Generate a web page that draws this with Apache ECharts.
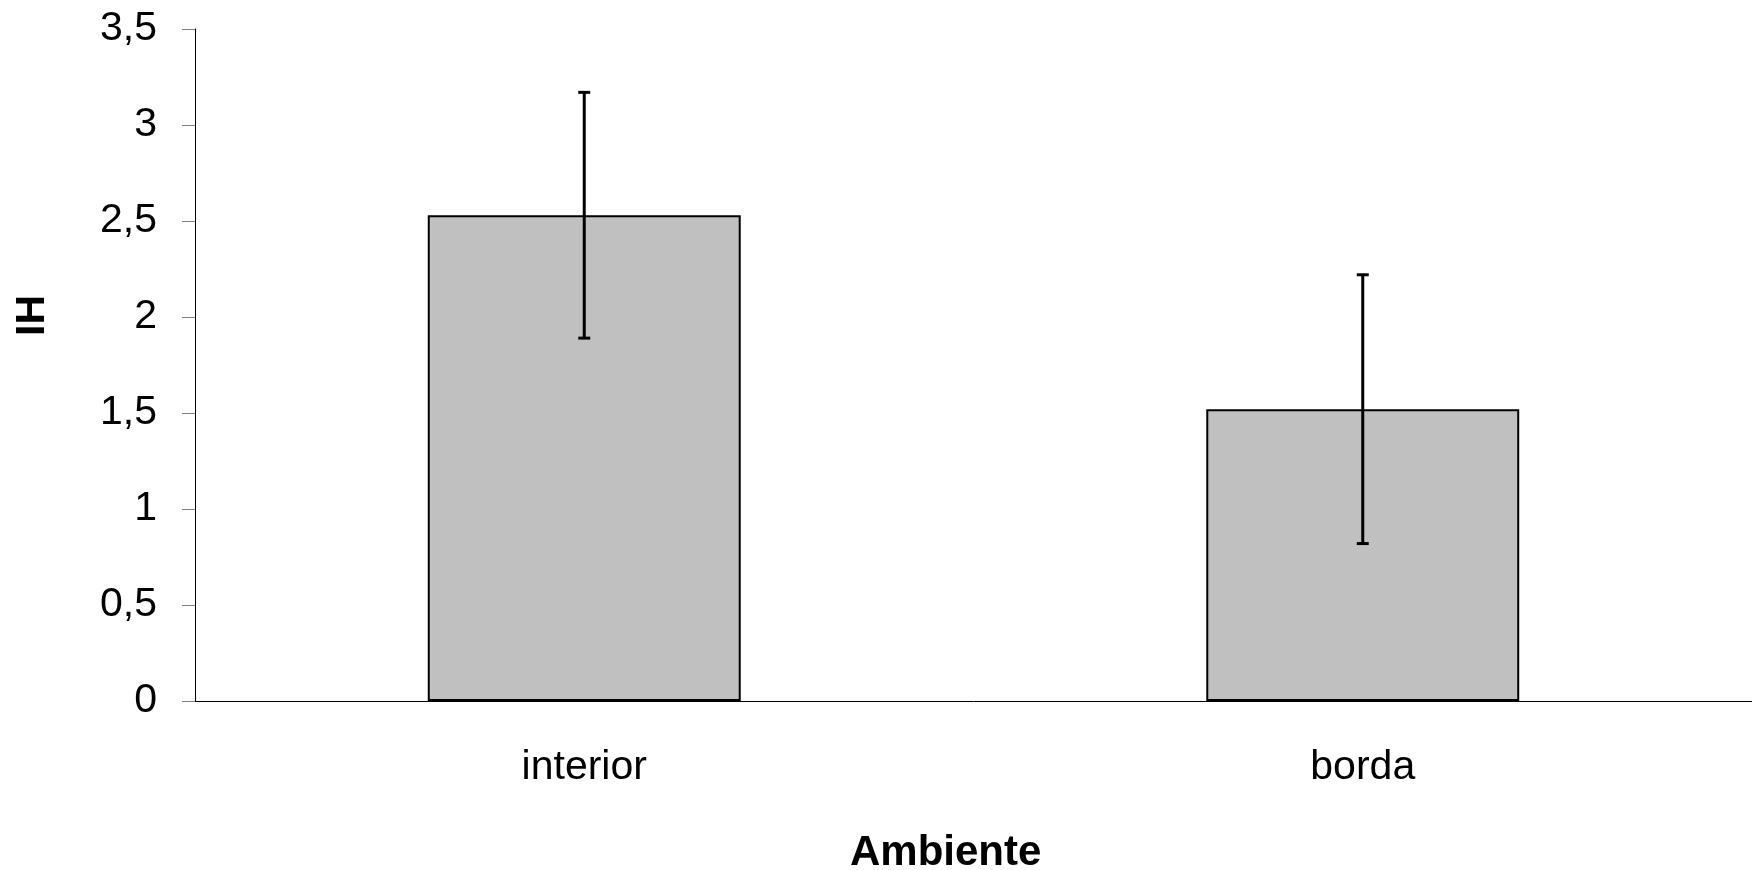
<!DOCTYPE html>
<html>
<head>
<meta charset="utf-8">
<script src="https://cdn.jsdelivr.net/npm/echarts@6/dist/echarts.min.js"></script>
<style>
  html, body { margin: 0; padding: 0; background: #fff; }
  #chart { width: 1752px; height: 870px; }
</style>
</head>
<body>
<div id="chart"></div>
<script>
// categorias (Ambiente)
const categories = ["interior", "borda"];
// média do IH
const meanValues = [2.53, 1.52];
// desvio (barra de erro)
const errorValues = [0.64, 0.70];
// rótulos do eixo y
const yTicks = [0, 0.5, 1, 1.5, 2, 2.5, 3, 3.5];

const FONT = "Liberation Sans, Arial, sans-serif";

const errorData = categories.map((c, i) => [i, meanValues[i] - errorValues[i], meanValues[i] + errorValues[i]]);

const chart = echarts.init(document.getElementById("chart"));
chart.setOption({
  animation: false,
  backgroundColor: "#fff",
  grid: { left: 195, right: 0, top: 29, bottom: 169 },
  xAxis: {
    type: "category",
    data: categories,
    axisLine: { lineStyle: { color: "#000", width: 1 } },
    axisTick: { length: 13, lineStyle: { color: "#606060" } },
    axisLabel: { color: "#000", fontFamily: FONT, fontSize: 41, margin: 46 },
  },
  yAxis: {
    type: "value",
    min: yTicks[0],
    max: yTicks[yTicks.length - 1],
    interval: 0.5,
    splitLine: { show: false },
    axisLine: { show: true, lineStyle: { color: "#000", width: 1 } },
    axisTick: { show: true, length: 13, lineStyle: { color: "#808080" } },
    axisLabel: {
      color: "#000", fontFamily: FONT, fontSize: 41, margin: 38,
      formatter: v => String(v).replace(".", ","),
    },
  },
  graphic: [
    {
      type: "text", left: 12, top: 295, rotation: Math.PI / 2,
      style: { text: "IH", font: "bold 41px " + FONT, fill: "#000" },
    },
    {
      type: "text", left: 850, top: 832,
      style: { text: "Ambiente", font: "bold 42px " + FONT, fill: "#000" },
    },
  ],
  series: [
    {
      type: "bar",
      data: meanValues,
      barWidth: "40.2%",
      itemStyle: { color: "#C0C0C0", borderColor: "#000", borderWidth: 2 },
    },
    {
      type: "custom",
      data: errorData,
      z: 10,
      renderItem: (params, api) => {
        const x = api.value(0);
        const lo = api.coord([x, api.value(1)]);
        const hi = api.coord([x, api.value(2)]);
        const w = 6;
        const style = { stroke: "#000", lineWidth: 3 };
        return {
          type: "group",
          children: [
            { type: "line", shape: { x1: hi[0], y1: hi[1], x2: lo[0], y2: lo[1] }, style },
            { type: "line", shape: { x1: hi[0] - w, y1: hi[1], x2: hi[0] + w, y2: hi[1] }, style },
            { type: "line", shape: { x1: lo[0] - w, y1: lo[1], x2: lo[0] + w, y2: lo[1] }, style },
          ],
        };
      },
    },
  ],
});
</script>
</body>
</html>
